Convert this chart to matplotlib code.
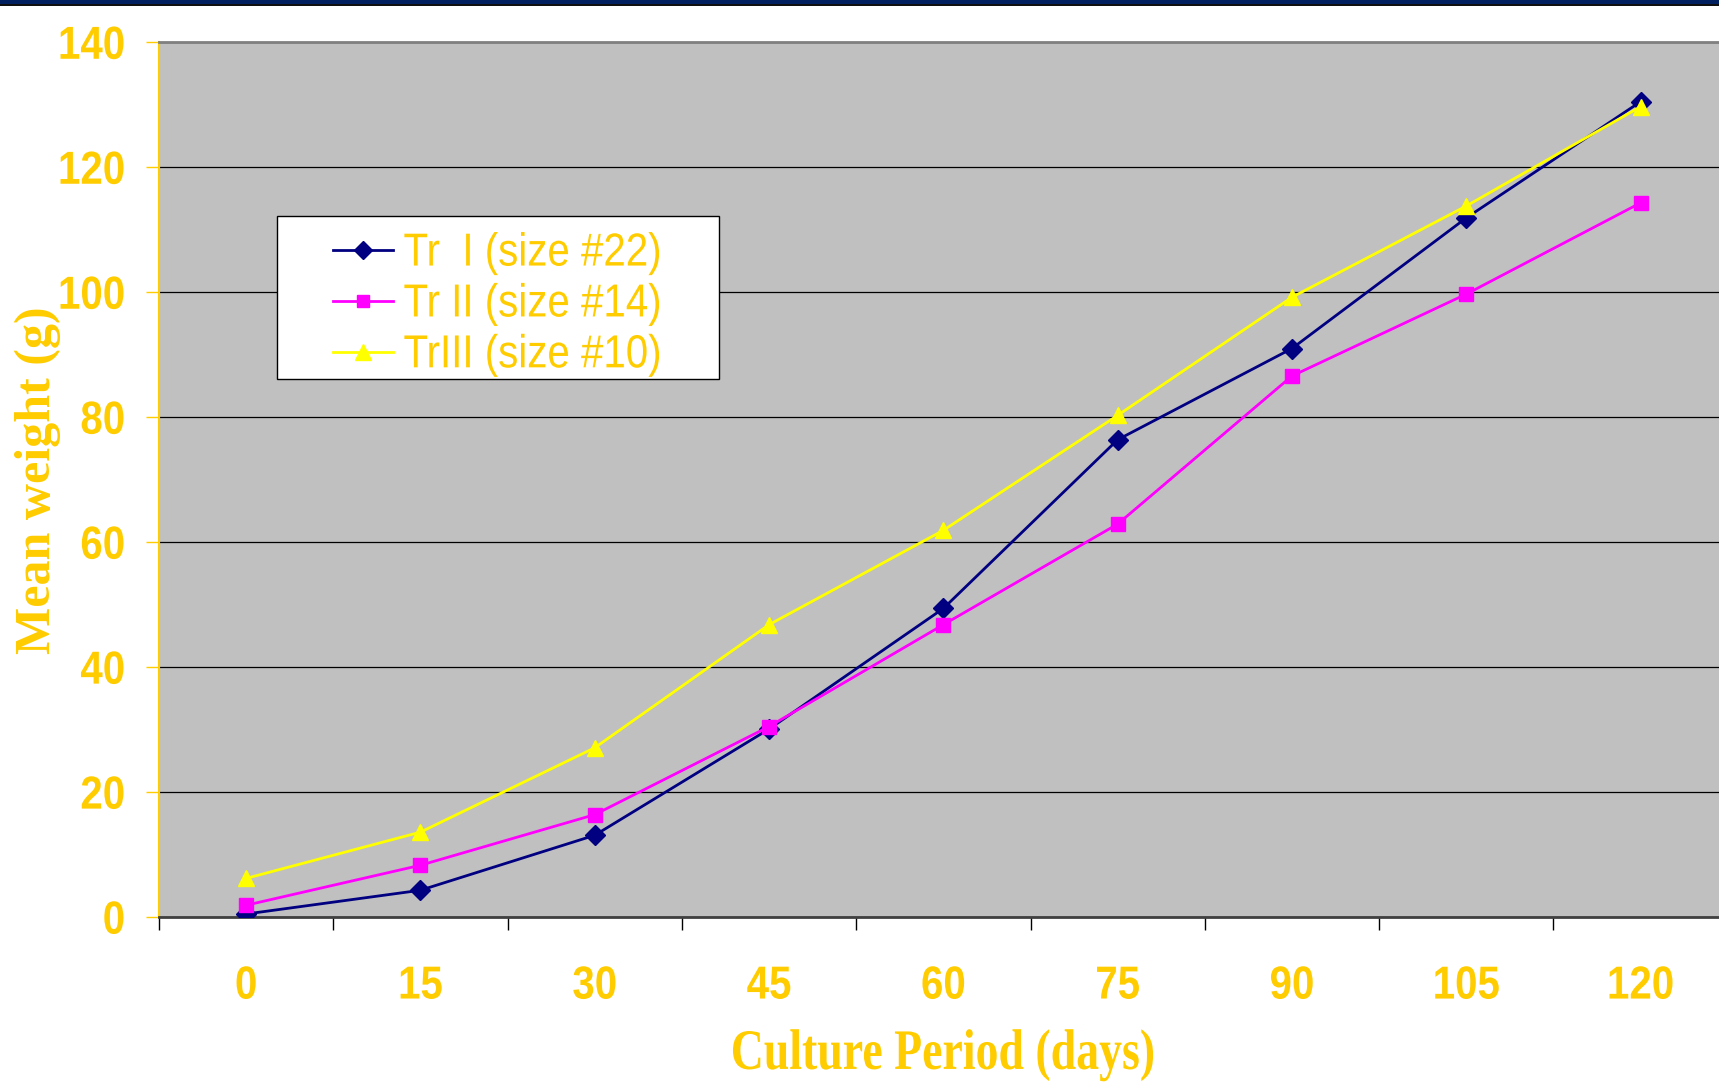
import matplotlib
matplotlib.use("Agg")
import matplotlib.pyplot as plt
from matplotlib.patches import Rectangle
from matplotlib.lines import Line2D
from matplotlib.patheffects import AbstractPathEffect
from matplotlib.transforms import Affine2D

days = ["0", "15", "30", "45", "60", "75", "90", "105", "120"]
tr1 = [0.4, 4.2, 13.0, 30.0, 49.3, 76.3, 90.9, 111.8, 130.4]
tr2 = [1.8, 8.2, 16.3, 30.4, 46.7, 62.8, 86.5, 99.6, 114.2]
tr3 = [6.1, 13.5, 27.0, 46.7, 61.8, 80.2, 99.1, 113.7, 129.6]
labels = ["Tr  I (size #22)", "Tr II (size #14)", "TrIII (size #10)"]
yticks = [0, 20, 40, 60, 80, 100, 120, 140]


class Stretch(AbstractPathEffect):
    """Scale rendered text about its own centre (emulates a vertically stretched font)."""

    def __init__(self, sx=1.0, sy=1.0):
        super().__init__()
        self.sx, self.sy = sx, sy

    def draw_path(self, renderer, gc, tpath, affine, rgbFace=None):
        ext = affine.transform_path(tpath).get_extents()
        cx, cy = (ext.x0 + ext.x1) / 2, (ext.y0 + ext.y1) / 2
        aff = affine + Affine2D().translate(-cx, -cy).scale(self.sx, self.sy).translate(cx, cy)
        renderer.draw_path(gc, tpath, aff, rgbFace)


GOLD = "#FFCC00"
W, H = 1719, 1086
fig = plt.figure(figsize=(W / 100, H / 100), dpi=100)
fig.patch.set_facecolor("white")

# top dark band
fig.patches.append(Rectangle((0, 1 - 3.5 / H), 1, 3.5 / H, transform=fig.transFigure,
                             facecolor="#002060", edgecolor="none"))
fig.patches.append(Rectangle((0, 1 - 5.5 / H), 1, 2 / H, transform=fig.transFigure,
                             facecolor="#101010", edgecolor="none"))

left, top, bottom = 159, 41.7, 916.5
cw = 174.3
ax = fig.add_axes([left / W, (H - bottom) / H, 9 * cw / W, (bottom - top) / H])
ax.set_facecolor("#C0C0C0")

x = list(range(len(days)))
ax.plot(x, tr1, color="#000080", lw=2, marker="D", ms=10, mfc="#000080", mec="#000080", zorder=3)
ax.plot(x, tr2, color="#FF00FF", lw=2, marker="s", ms=10, mfc="#FF00FF", mec="#FF00FF", zorder=3)
ax.plot(x, tr3, color="#FFFF00", lw=2, marker="^", ms=12, mfc="#FFFF00", mec="#FFFF00", zorder=3)

ax.set_xlim(-0.5, len(days) - 0.5)
ax.set_ylim(0, 140)
ax.set_yticks(yticks)
ax.yaxis.grid(True, color="black", lw=0.9)
ax.set_axisbelow(True)

tick_font = dict(family=["Liberation Sans", "DejaVu Sans"], weight="bold", size=29)
ax.set_yticklabels([str(v) for v in yticks], color=GOLD, fontdict=tick_font)
ax.tick_params(axis="y", direction="out", length=9.4, width=1, color=GOLD, pad=15)

ax.set_xticks([i - 0.5 for i in range(len(days) + 1)])
ax.set_xticklabels([])
ax.tick_params(axis="x", which="major", direction="out", length=9, width=1, color="black")
ax.set_xticks(x, minor=True)
ax.set_xticklabels(days, minor=True, color=GOLD, fontdict=tick_font)
ax.tick_params(axis="x", which="minor", length=0, pad=36)

for t in ax.get_yticklabels() + ax.get_xticklabels(minor=True):
    t.set_path_effects([Stretch(1.0, 1.15)])

ax.spines["right"].set_visible(False)
ax.spines["top"].set_color("#808080")
ax.spines["top"].set_linewidth(2)
ax.spines["bottom"].set_color("#404040")
ax.spines["bottom"].set_linewidth(2)
ax.spines["left"].set_color(GOLD)
ax.spines["left"].set_linewidth(1.5)

serif = ["Liberation Serif", "DejaVu Serif"]
xl = ax.set_xlabel("Culture Period (days)", family=serif, weight="bold", size=33,
                   color=GOLD, va="center")
xl.set_path_effects([Stretch(1.0, 1.25)])
ax.xaxis.set_label_coords(0.5, -(1055 - bottom) / (bottom - top))
ax.set_ylabel("Mean weight (g)", family=serif, weight="bold", size=36, color=GOLD, va="center")
ax.yaxis.set_label_coords((38 - left) / (9 * cw), 1 - (480 - top) / (bottom - top))

# legend box
ax.add_patch(Rectangle(((277 - left) / (9 * cw), 1 - (379 - top) / (bottom - top)),
                       (719 - 277) / (9 * cw), (379 - 216) / (bottom - top),
                       transform=ax.transAxes, facecolor="white", edgecolor="black",
                       lw=1, zorder=4))
handles = [
    Line2D([], [], color="#000080", lw=2, marker="D", ms=9),
    Line2D([], [], color="#FF00FF", lw=2, marker="s", ms=9),
    Line2D([], [], color="#FFFF00", lw=2, marker="^", ms=11),
]
leg = ax.legend(handles, labels, loc="upper left",
                bbox_to_anchor=((333 - left) / (9 * cw), 1 - (234 - top) / (bottom - top)),
                borderaxespad=0, borderpad=0, frameon=False, handlelength=1.5,
                handletextpad=0.25, labelspacing=0.32,
                prop=dict(family=["Liberation Sans", "DejaVu Sans"], size=29))
leg.set_zorder(5)
for t in leg.get_texts():
    t.set_color(GOLD)
    t.set_path_effects([Stretch(1.0, 1.15)])

fig.savefig("out.png", dpi=100)
